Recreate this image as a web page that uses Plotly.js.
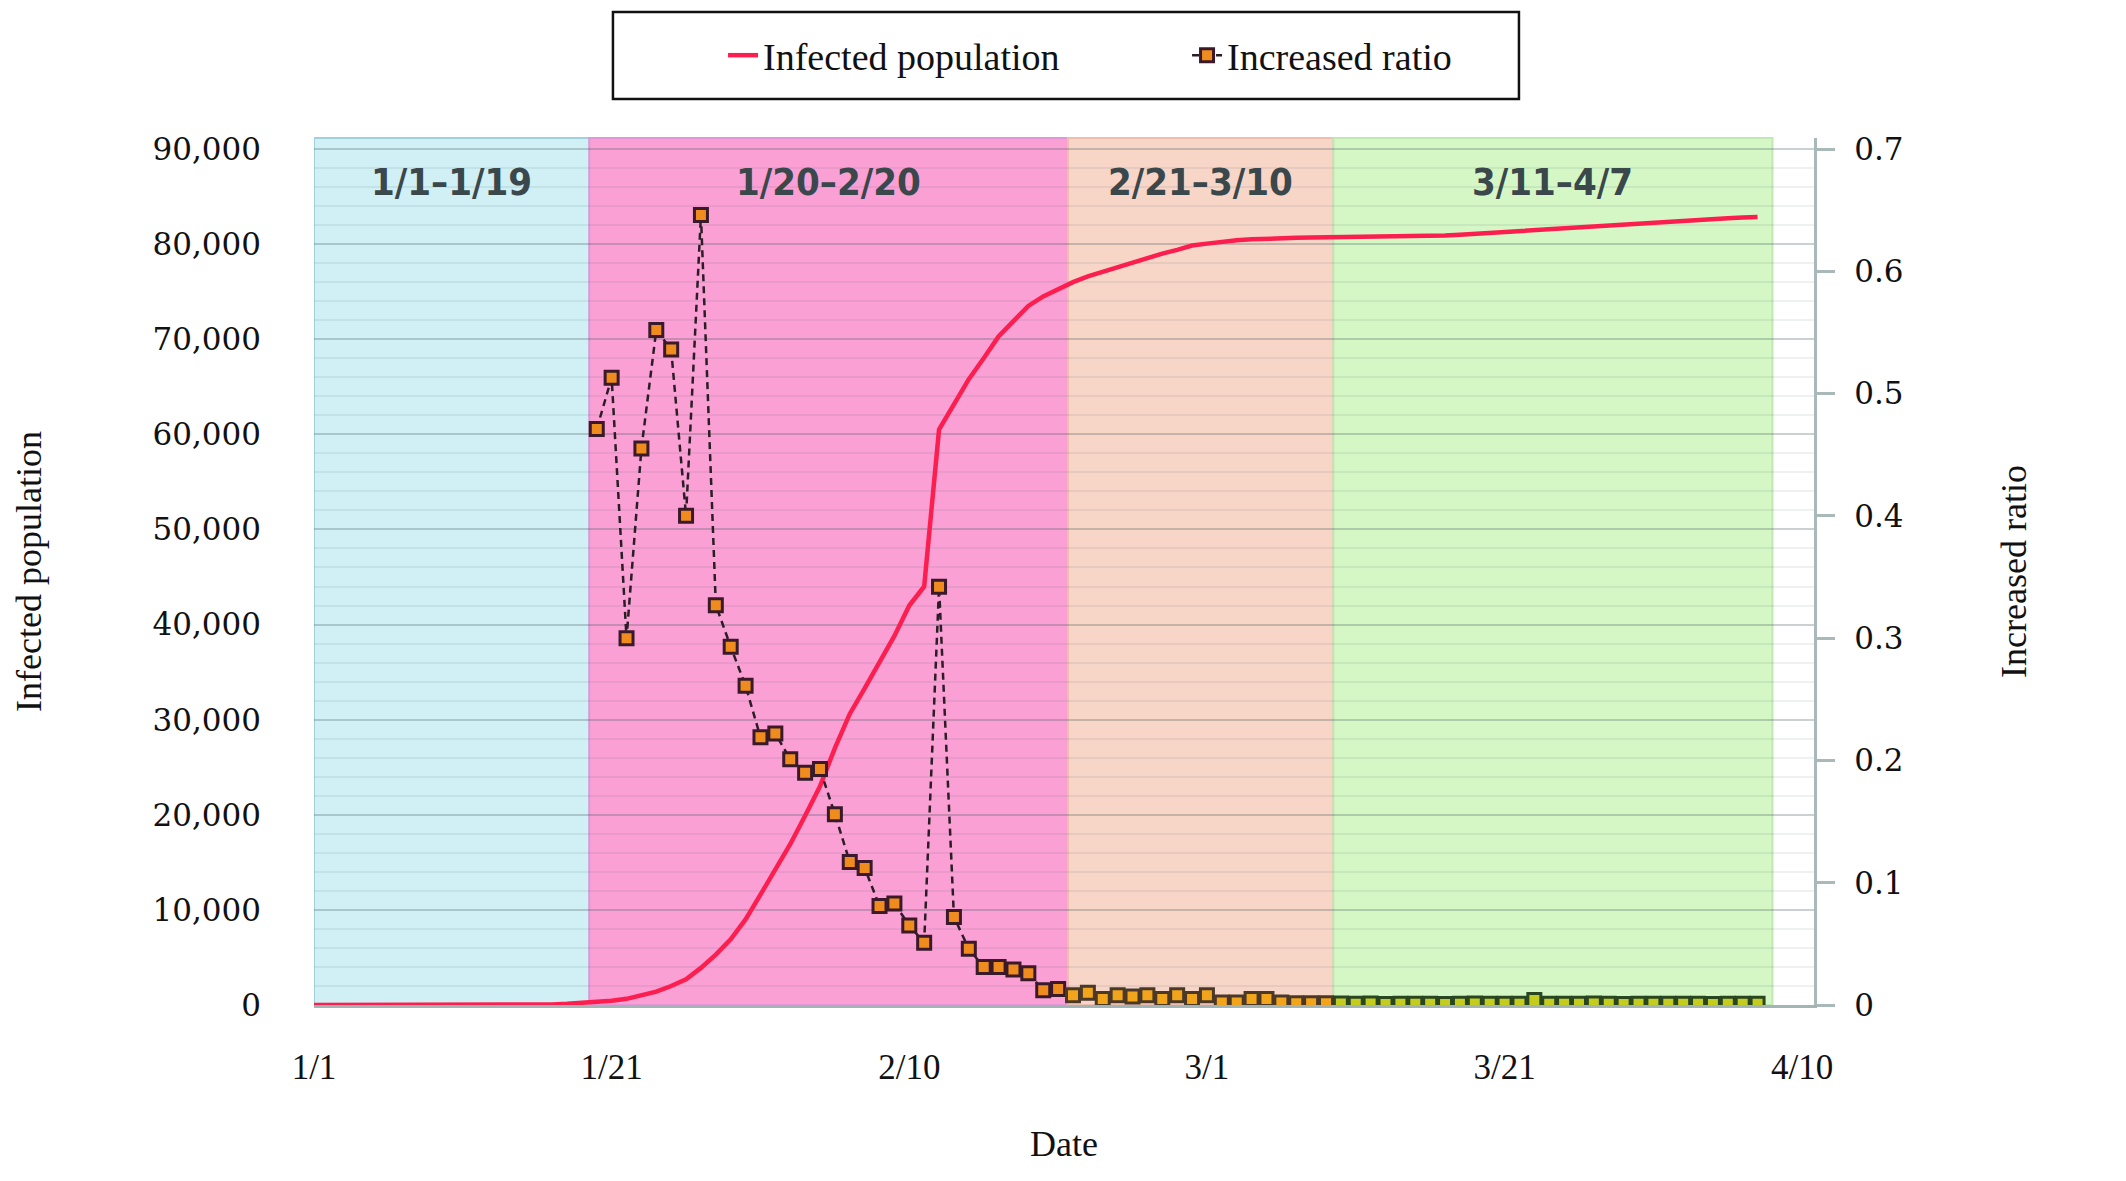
<!DOCTYPE html>
<html>
<head>
<meta charset="utf-8">
<script src="https://cdn.plot.ly/plotly-3.0.1.min.js"></script>
<style>
  html, body { margin: 0; padding: 0; background: #ffffff; }
  #chart { width: 2126px; height: 1181px; }
</style>
</head>
<body>
<div id="chart"></div>
<script>
// ---------------- data ----------------
const dates = [
  '2020-01-01','2020-01-02','2020-01-03','2020-01-04','2020-01-05','2020-01-06','2020-01-07','2020-01-08','2020-01-09','2020-01-10',
  '2020-01-11','2020-01-12','2020-01-13','2020-01-14','2020-01-15','2020-01-16','2020-01-17','2020-01-18','2020-01-19','2020-01-20',
  '2020-01-21','2020-01-22','2020-01-23','2020-01-24','2020-01-25','2020-01-26','2020-01-27','2020-01-28','2020-01-29','2020-01-30',
  '2020-01-31','2020-02-01','2020-02-02','2020-02-03','2020-02-04','2020-02-05','2020-02-06','2020-02-07','2020-02-08','2020-02-09',
  '2020-02-10','2020-02-11','2020-02-12','2020-02-13','2020-02-14','2020-02-15','2020-02-16','2020-02-17','2020-02-18','2020-02-19',
  '2020-02-20','2020-02-21','2020-02-22','2020-02-23','2020-02-24','2020-02-25','2020-02-26','2020-02-27','2020-02-28','2020-02-29',
  '2020-03-01','2020-03-02','2020-03-03','2020-03-04','2020-03-05','2020-03-06','2020-03-07','2020-03-08','2020-03-09','2020-03-10',
  '2020-03-11','2020-03-12','2020-03-13','2020-03-14','2020-03-15','2020-03-16','2020-03-17','2020-03-18','2020-03-19','2020-03-20',
  '2020-03-21','2020-03-22','2020-03-23','2020-03-24','2020-03-25','2020-03-26','2020-03-27','2020-03-28','2020-03-29','2020-03-30',
  '2020-03-31','2020-04-01','2020-04-02','2020-04-03','2020-04-04','2020-04-05','2020-04-06','2020-04-07'
];

const infected = [
  0,0,0,0,0,0,0,0,0,0,
  40,40,40,40,40,45,60,120,200,300,
  450,650,1000,1400,2000,2700,3900,5300,6900,9000,
  11600,14200,16900,19900,23000,27000,30600,33300,36000,38800,
  42000,44000,60500,63200,65800,68000,70300,71900,73500,74500,
  75300,76000,76600,77100,77500,78000,78500,79000,79400,79850,
  80050,80250,80400,80500,80580,80620,80660,80690,80710,80730,
  80750,80760,80770,80780,80800,80850,80900,80990,81090,81200,
  81310,81420,81520,81620,81730,81830,81930,82030,82130,82230,
  82330,82430,82500,82580,82650,82720,82790,82860
];

const ratio = [
  null,null,null,null,null,null,null,null,null,null,
  null,null,null,null,null,null,null,null,null,0.471,
  0.513,0.300,0.455,0.552,0.536,0.400,0.646,0.327,0.293,0.261,
  0.219,0.222,0.201,0.190,0.193,0.156,0.117,0.112,0.081,0.083,
  0.065,0.051,0.342,0.072,0.046,0.031,0.031,0.029,0.026,0.012,
  0.013,0.008,0.010,0.005,0.008,0.007,0.008,0.005,0.008,0.005,
  0.008,0.002,0.002,0.005,0.005,0.002,0.0015,0.0015,0.0015,0.0012,
  0.001,0.0012,0.0009,0.001,0.0011,0.001,0.0009,0.001,0.0012,0.001,
  0.0011,0.001,0.004,0.001,0.0011,0.001,0.0012,0.001,0.0009,0.001,
  0.0011,0.001,0.0011,0.001,0.0009,0.001,0.001,0.0011
];

// periods (background bands)
const periodLabels = ['1/1\u20131/19', '1/20\u20132/20', '2/21\u20133/10', '3/11\u20134/7'];
const periodStart  = ['2020-01-01 00:00', '2020-01-19 12:00', '2020-02-20 16:00', '2020-03-09 12:00'];
const periodEnd    = ['2020-01-19 12:00', '2020-02-20 16:00', '2020-03-09 12:00', '2020-04-08 00:00'];
const periodFill   = ['rgb(208,240,245)', 'rgb(250,160,213)', 'rgb(247,214,200)', 'rgb(213,247,198)'];
const periodEdge   = ['rgb(160,210,222)', 'rgb(226,150,214)', 'rgb(238,190,176)', 'rgb(192,232,176)'];
const markerFill   = ['#f08c1e', '#f08c1e', '#f2a51a', '#c4cc1e'];
const markerEdge   = ['#3a1a2a', '#3a1a2a', '#4a3828', '#284622'];

// x-axis ticks
const tickDates  = ['2020-01-01','2020-01-21','2020-02-10','2020-03-01','2020-03-21','2020-04-10'];
const tickLabels = ['1/1','1/21','2/10','3/1','3/21','4/10'];

// ---------------- helpers ----------------
function toMs(s) {
  const p = s.split(/[- :]/).map(Number);
  return Date.UTC(p[0], p[1] - 1, p[2], p[3] || 0, p[4] || 0);
}
function pad(n) { return (n < 10 ? '0' : '') + n; }
function fromMs(ms) {
  const d = new Date(ms);
  return d.getUTCFullYear() + '-' + pad(d.getUTCMonth() + 1) + '-' + pad(d.getUTCDate()) +
         ' ' + pad(d.getUTCHours()) + ':' + pad(d.getUTCMinutes());
}
function periodOf(dateStr) {
  const t = toMs(dateStr);
  for (let i = 0; i < periodStart.length; i++) {
    if (t >= toMs(periodStart[i]) && t < toMs(periodEnd[i])) return i;
  }
  return periodStart.length - 1;
}

const ptFill = dates.map(d => markerFill[periodOf(d)]);
const ptEdge = dates.map(d => markerEdge[periodOf(d)]);

// ---------------- traces ----------------
const traceInfected = {
  x: dates, y: infected, name: 'Infected population',
  type: 'scatter', mode: 'lines', yaxis: 'y',
  line: { color: 'rgb(252,30,78)', width: 4.5 },
  hoverinfo: 'skip'
};
const traceRatio = {
  x: dates, y: ratio, name: 'Increased ratio',
  type: 'scatter', mode: 'lines+markers', yaxis: 'y2',
  line: { color: '#2b1d26', width: 2.5, dash: '7px,5px' },
  marker: { symbol: 'square', size: 13, color: ptFill, line: { color: ptEdge, width: 3 } },
  hoverinfo: 'skip'
};

// ---------------- layout ----------------
const shapes = periodLabels.map((_, i) => ({
  type: 'rect', xref: 'x', yref: 'paper', layer: 'below',
  x0: periodStart[i], x1: periodEnd[i], y0: 0, y1: 1,
  fillcolor: periodFill[i], line: { color: periodEdge[i], width: 2 }
}));
// legend frame
shapes.push({
  type: 'rect', xref: 'paper', yref: 'paper', layer: 'below',
  x0: 0.1993, x1: 0.8033, y0: 1.045, y1: 1.1453,
  fillcolor: '#ffffff', line: { color: '#111111', width: 2.5 }
});

const annotations = periodLabels.map((lab, i) => ({
  xref: 'x', yref: 'paper',
  x: fromMs((toMs(periodStart[i]) + toMs(periodEnd[i])) / 2), y: 0.949,
  text: '<b>' + lab + '</b>', showarrow: false,
  xanchor: 'center', yanchor: 'middle',
  font: { family: '"DejaVu Sans Condensed", "Liberation Sans Narrow", "Arial Narrow", sans-serif', size: 38, color: '#3a474b' }
}));

const serif = '"Liberation Serif", "Times New Roman", serif';
const tickSerif = '"DejaVu Serif", serif';

const layout = {
  width: 2126, height: 1181,
  margin: { l: 314, r: 312, t: 138, b: 176 },
  paper_bgcolor: '#ffffff', plot_bgcolor: '#ffffff',
  showlegend: true,
  legend: {
    orientation: 'h', x: 0.2727, xanchor: 'left', y: 1.1315, yanchor: 'top',
    font: { family: serif, size: 38, color: '#111111' },
    bgcolor: 'rgba(0,0,0,0)', borderwidth: 0,
    entrywidth: 419
  },
  xaxis: {
    type: 'date', range: ['2020-01-01', '2020-04-10 19:00'],
    tickmode: 'array', tickvals: tickDates, ticktext: tickLabels,
    showgrid: false, zeroline: false,
    showline: true, linecolor: '#a3b4b4', linewidth: 3,
    ticks: '', ticklabelstandoff: 29,
    tickfont: { family: serif, size: 35, color: '#111111' },
    title: { text: 'Date', font: { family: serif, size: 36, color: '#111111' }, standoff: 45 },
    fixedrange: true
  },
  yaxis: {
    range: [0, 91157], dtick: 10000, tickformat: ',d',
    showgrid: true, gridcolor: 'rgba(70,90,95,0.28)', gridwidth: 2,
    minor: { dtick: 2000, showgrid: true, gridcolor: 'rgba(70,90,95,0.09)', gridwidth: 2 },
    zeroline: false, showline: false, ticks: '', ticklabelstandoff: 52,
    tickfont: { family: tickSerif, size: 31, color: '#111111' },
    title: { text: 'Infected population', font: { family: serif, size: 36, color: '#111111' }, standoff: 99 },
    fixedrange: true
  },
  yaxis2: {
    overlaying: 'y', side: 'right', range: [0, 0.709], dtick: 0.1,
    showgrid: false, zeroline: false,
    showline: true, linecolor: '#a9b9b9', linewidth: 3,
    ticks: 'outside', ticklen: 18, tickwidth: 3, tickcolor: '#a9b9b9',
    ticklabelstandoff: 13,
    tickfont: { family: tickSerif, size: 31, color: '#111111' },
    title: { text: 'Increased ratio', font: { family: serif, size: 36, color: '#111111' }, standoff: 99 },
    fixedrange: true
  },
  shapes: shapes,
  annotations: annotations
};

Plotly.newPlot('chart', [traceInfected, traceRatio], layout, { displayModeBar: false, staticPlot: true });
</script>
</body>
</html>
